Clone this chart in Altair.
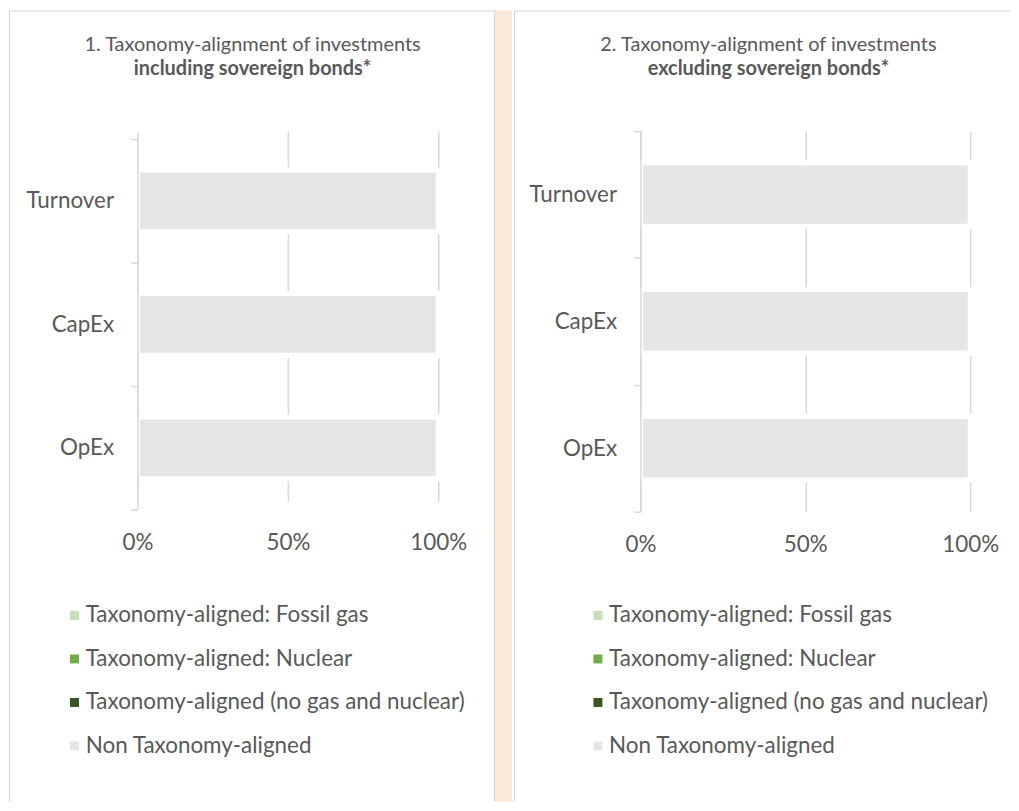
import altair as alt
import pandas as pd

# ---------------- data ----------------
categories = ["Turnover", "CapEx", "OpEx"]
series = [
    "Taxonomy-aligned: Fossil gas",
    "Taxonomy-aligned: Nuclear",
    "Taxonomy-aligned (no gas and nuclear)",
    "Non Taxonomy-aligned",
]
colors = ["#c5e0b4", "#70ad47", "#375623", "#e6e6e6"]

# panel 1: including sovereign bonds (% per category: Turnover, CapEx, OpEx)
incl_fossil = [0, 0, 0]
incl_nuclear = [0, 0, 0]
incl_aligned = [0, 0, 0]
incl_non = [100, 100, 100]

# panel 2: excluding sovereign bonds
excl_fossil = [0, 0, 0]
excl_nuclear = [0, 0, 0]
excl_aligned = [0, 0, 0]
excl_non = [100, 100, 100]

x_ticks = [0, 50, 100]

title1 = ["1. Taxonomy-alignment of investments", "including sovereign bonds*"]
title2 = ["2. Taxonomy-alignment of investments", "excluding sovereign bonds*"]

# ---------------- style ----------------
FONT = "Lato"
TXT = "#595959"
GRID = "#d9d9d9"
BORDER = "#d6d6d6"
PEACH = "#fbe8d7"
FS = 22.5


def long_df(vals):
    rows = []
    for si, (s, v) in enumerate(zip(series, vals)):
        for c, val in zip(categories, v):
            rows.append({"category": c, "series": s, "order": si, "value": val})
    return pd.DataFrame(rows)


def panel(df, titles, w, h, yrange, box, tx, ty, lx, ly, gap):
    x1, x2, y1, y2 = box
    one = pd.DataFrame({"k": [0]})
    layers = []
    # panel frame (left + top border)
    layers.append(alt.Chart(one).mark_rule(color=BORDER, strokeWidth=1).encode(
        x=alt.value(x1 + 0.5), y=alt.value(y1), y2=alt.value(y2)))
    layers.append(alt.Chart(one).mark_rule(color=BORDER, strokeWidth=1).encode(
        x=alt.value(x1), x2=alt.value(x2), y=alt.value(y1 + 0.5)))
    if gap:
        # right border + peach gutter to the next panel
        layers.append(alt.Chart(one).mark_rect(fill=PEACH).encode(
            x=alt.value(x2), x2=alt.value(x2 + gap), y=alt.value(y1), y2=alt.value(y2)))
        layers.append(alt.Chart(one).mark_rule(color=BORDER, strokeWidth=1).encode(
            x=alt.value(x2 - 0.5), y=alt.value(y1), y2=alt.value(y2)))
    bars = alt.Chart(df).mark_bar(
        stroke="white", strokeWidth=5, height={"band": 0.5}
    ).encode(
        y=alt.Y(
            "category:N",
            sort=categories,
            scale=alt.Scale(paddingInner=0, paddingOuter=0, range=yrange),
            axis=alt.Axis(
                title=None, grid=False, domainColor=GRID, domainWidth=1.5,
                tickColor=GRID, tickWidth=1.5, tickSize=7, tickBand="extent",
                labelPadding=17, labelFont=FONT, labelFontSize=FS,
                labelColor=TXT, zindex=1,
            ),
        ),
        x=alt.X(
            "value:Q",
            stack="zero",
            scale=alt.Scale(domain=[0, 100], nice=False),
            axis=alt.Axis(
                title=None, values=x_ticks, labelExpr="datum.value + '%'",
                domain=False, ticks=False, grid=True, gridColor=GRID,
                gridWidth=1.5, labelPadding=22, labelFlush=False,
                labelFont=FONT, labelFontSize=FS, labelColor=TXT,
            ),
        ),
        color=alt.Color(
            "series:N",
            scale=alt.Scale(domain=series, range=colors),
            legend=alt.Legend(
                title=None, orient="none", legendX=lx, legendY=ly, padding=0,
                symbolType="square", symbolSize=81, symbolStrokeWidth=0,
                labelOffset=0, rowPadding=20.7, labelFont=FONT,
                labelFontSize=FS, labelColor=TXT, labelLimit=0,
            ),
        ),
        order=alt.Order("order:Q"),
    )
    layers.append(bars)
    layers.append(alt.Chart(one).mark_text(
        text=titles[0], font=FONT, fontSize=20, color=TXT,
        align="center", baseline="alphabetic",
    ).encode(x=alt.value(tx), y=alt.value(ty)))
    layers.append(alt.Chart(one).mark_text(
        text=titles[1], font=FONT, fontSize=20, fontWeight="bold", color=TXT,
        align="center", baseline="alphabetic",
    ).encode(x=alt.value(tx), y=alt.value(ty + 24.4)))
    return alt.layer(*layers).properties(width=w, height=h)


p1 = panel(
    long_df([incl_fossil, incl_nuclear, incl_aligned, incl_non]), title1,
    302, 380, [8, 380], (-129, 359, -121, 673), 115.5, -80.7, -74.5, 475, 17,
)
p2 = panel(
    long_df([excl_fossil, excl_nuclear, excl_aligned, excl_non]), title2,
    331, 382, [0, 382], (-127, 371, -121, 673), 128.5, -80.7, -54, 475, 0,
)

chart = (
    alt.hconcat(p1, p2, spacing=0)
    .resolve_scale(color="independent")
    .resolve_legend(color="independent")
    .properties(background="white", padding=0)
    .configure_view(stroke="transparent")
)

chart.save("out.html", embed_options={"renderer": "svg", "actions": False})
